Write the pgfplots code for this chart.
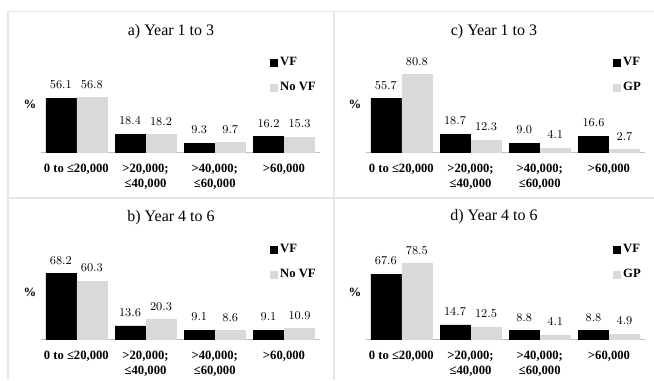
\documentclass[border=0pt]{standalone}
\usepackage{pgfplots}
\pgfplotsset{compat=1.18}
\usepackage{fontspec}
\setmainfont{Liberation Serif}
\definecolor{lgray}{HTML}{D9D9D9}
\definecolor{frame}{HTML}{E6E6E6}
\pgfplotsset{
  panel/.style={
    width=209.25pt, height=72pt, scale only axis,
    xmin=-0.51, xmax=3.52, ymin=0, ymax=100,
    anchor=south west,
    ybar=0.75pt, bar width=22.5pt,
    axis x line*=bottom, axis y line=none,
    x axis line style={draw=black!25, line width=0.75pt, -},
    xtick={0,1,2,3}, major tick length=0pt,
    xticklabels={{0 to ≤20,000}, {>20,000;\\≤40,000}, {>40,000;\\≤60,000}, {>60,000}},
    xticklabel style={font=\bfseries\fontsize{9.5}{11.5}\selectfont, align=center, anchor=north, yshift=-5.5pt},
    ytick=\empty,
    nodes near coords={\pgfmathprintnumber[fixed,fixed zerofill,precision=1]{\pgfplotspointmeta}},
    nodes near coords style={font=\fontsize{9}{10}\selectfont, text=black, yshift=3.5pt},
    legend style={at={(rel axis cs:1,1)}, anchor=north east, draw=none, fill=none,
      font=\bfseries\fontsize{9.5}{11}\selectfont, row sep=7pt, inner sep=0pt,
      yshift=1pt, xshift=-1pt},
    legend cell align=left,
    legend image code/.code={\fill[##1] (0pt,-2.5pt) rectangle (5pt,2.5pt);},
    clip=false,
  },
  vf/.style={fill=black, draw=black},
  gp/.style={fill=lgray, draw=lgray},
}
\begin{document}
\begin{tikzpicture}
\path[use as bounding box] (0pt,0pt) rectangle (490.5pt,-285pt);
\begin{scope}[x=0.75pt,y=-0.75pt]
\draw[frame, line width=1.1pt] (8,380) -- (8,11.5) -- (654,11.5);
\draw[frame, line width=1.1pt] (334,11.5) -- (334,380);
\draw[frame, line width=1.1pt] (8,198) -- (654,198);
\node[font=\fontsize{12}{14}\selectfont] at (171,32) {a) Year 1 to 3};
\node[font=\fontsize{12}{14}\selectfont] at (494,32) {c) Year 1 to 3};
\node[font=\fontsize{12}{14}\selectfont] at (171,218) {b) Year 4 to 6};
\node[font=\fontsize{12}{14}\selectfont] at (494,217) {d) Year 4 to 6};
\node[font=\bfseries\fontsize{9.5}{10}\selectfont] at (30,104) {\%};
\node[font=\bfseries\fontsize{9.5}{10}\selectfont] at (355,104) {\%};
\node[font=\bfseries\fontsize{9.5}{10}\selectfont] at (30,292) {\%};
\node[font=\bfseries\fontsize{9.5}{10}\selectfont] at (355,292) {\%};
\end{scope}

% a)
\begin{axis}[panel, at={(30.75pt,-114pt)}]
\addplot[vf] coordinates {(0,56.1) (1,18.4) (2,9.3) (3,16.2)};
\addplot[gp] coordinates {(0,56.8) (1,18.2) (2,9.7) (3,15.3)};
\legend{VF,No VF}
\end{axis}
% c)
\begin{axis}[panel, at={(274.5pt,-114pt)}]
\addplot[vf] coordinates {(0,55.7) (1,18.7) (2,9.0) (3,16.6)};
\addplot[gp] coordinates {(0,80.8) (1,12.3) (2,4.1) (3,2.7)};
\legend{VF,GP}
\end{axis}
% b)
\begin{axis}[panel, at={(30.75pt,-254.25pt)}]
\addplot[vf] coordinates {(0,68.2) (1,13.6) (2,9.1) (3,9.1)};
\addplot[gp] coordinates {(0,60.3) (1,20.3) (2,8.6) (3,10.9)};
\legend{VF,No VF}
\end{axis}
% d)
\begin{axis}[panel, at={(274.5pt,-254.25pt)}]
\addplot[vf] coordinates {(0,67.6) (1,14.7) (2,8.8) (3,8.8)};
\addplot[gp] coordinates {(0,78.5) (1,12.5) (2,4.1) (3,4.9)};
\legend{VF,GP}
\end{axis}
\end{tikzpicture}
\end{document}
